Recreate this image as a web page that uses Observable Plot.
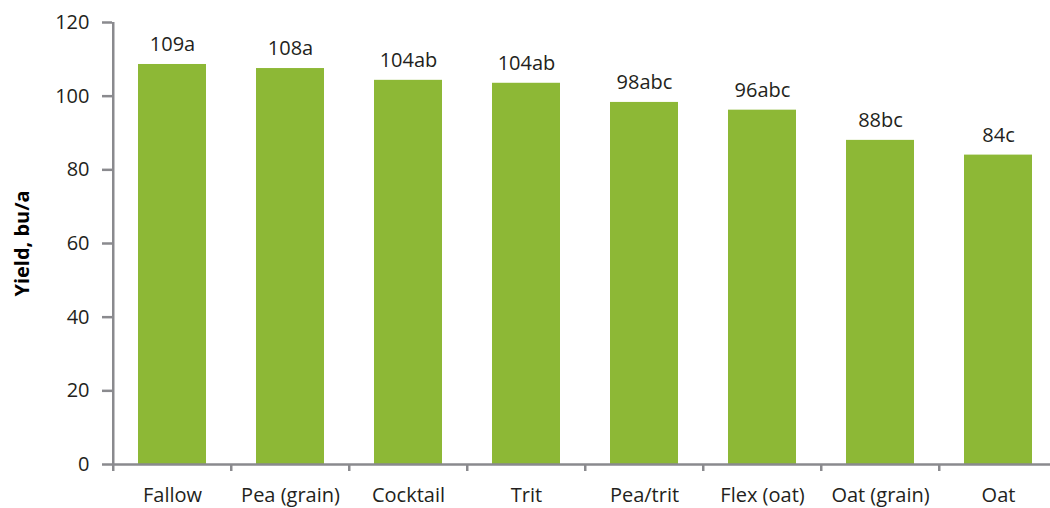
<!DOCTYPE html>
<html>
<head>
<meta charset="utf-8">
<script src="https://cdn.jsdelivr.net/npm/d3@7"></script>
<script src="https://cdn.jsdelivr.net/npm/@observablehq/plot@0.6"></script>
<style>
  html, body { margin: 0; padding: 0; background: #fff; }
  svg { display: block; }
</style>
</head>
<body>
<div id="chart"></div>
<script>
const categories = ["Fallow", "Pea (grain)", "Cocktail", "Trit", "Pea/trit", "Flex (oat)", "Oat (grain)", "Oat"];
const yields = [108.6, 107.5, 104.3, 103.5, 98.3, 96.2, 88.0, 84.0];
const barLabels = ["109a", "108a", "104ab", "104ab", "98abc", "96abc", "88bc", "84c"];
const yTicks = [0, 20, 40, 60, 80, 100, 120];

const data = categories.map((c, i) => ({cat: c, y: yields[i], label: barLabels[i]}));
const halfStep = (1060 - 112) / categories.length / 2;
const axisGrey = "#8a8a8e";
const fontFamily = "'Open Sans', 'Noto Sans', sans-serif";

const chart = Plot.plot({
  width: 1050,
  height: 508,
  marginLeft: 112,
  marginRight: 0,
  marginTop: 22,
  marginBottom: 44,
  style: {fontFamily, fontSize: "20px", color: "#231f20", background: "#fff"},
  x: {domain: categories, range: [111, 1059], paddingInner: 0.426, paddingOuter: 0.213},
  y: {domain: [0, 120]},
  marks: [
    Plot.barY(data, {x: "cat", y: "y", fill: "#8db836"}),
    Plot.text(data, {x: "cat", y: "y", text: "label", dy: -20, fontSize: 20, fill: "#231f20"}),
    Plot.ruleY([0], {stroke: axisGrey, strokeWidth: 2.5}),
    Plot.ruleX([categories[0]], {y1: 0, y2: 120, dx: -halfStep, stroke: axisGrey, strokeWidth: 2.5}),
    Plot.axisY({ticks: yTicks, tickSize: 10, tickPadding: 13, stroke: axisGrey, strokeWidth: 2.5, fontSize: 20, fill: "#231f20", label: null}),
    Plot.axisX({tickSize: 7, dx: -halfStep, stroke: axisGrey, strokeWidth: 2.5, tickFormat: () => "", label: null}),
    Plot.axisX({tickSize: 0, tickPadding: 23, fontSize: 20, fill: "#231f20", label: null}),
    Plot.text(["Yield, bu/a"], {frameAnchor: "left", textAnchor: "middle", dx: -90, rotate: -90, fontWeight: "bold", fontSize: 20, fill: "#000"})
  ]
});
document.getElementById("chart").appendChild(chart);
</script>
</body>
</html>
